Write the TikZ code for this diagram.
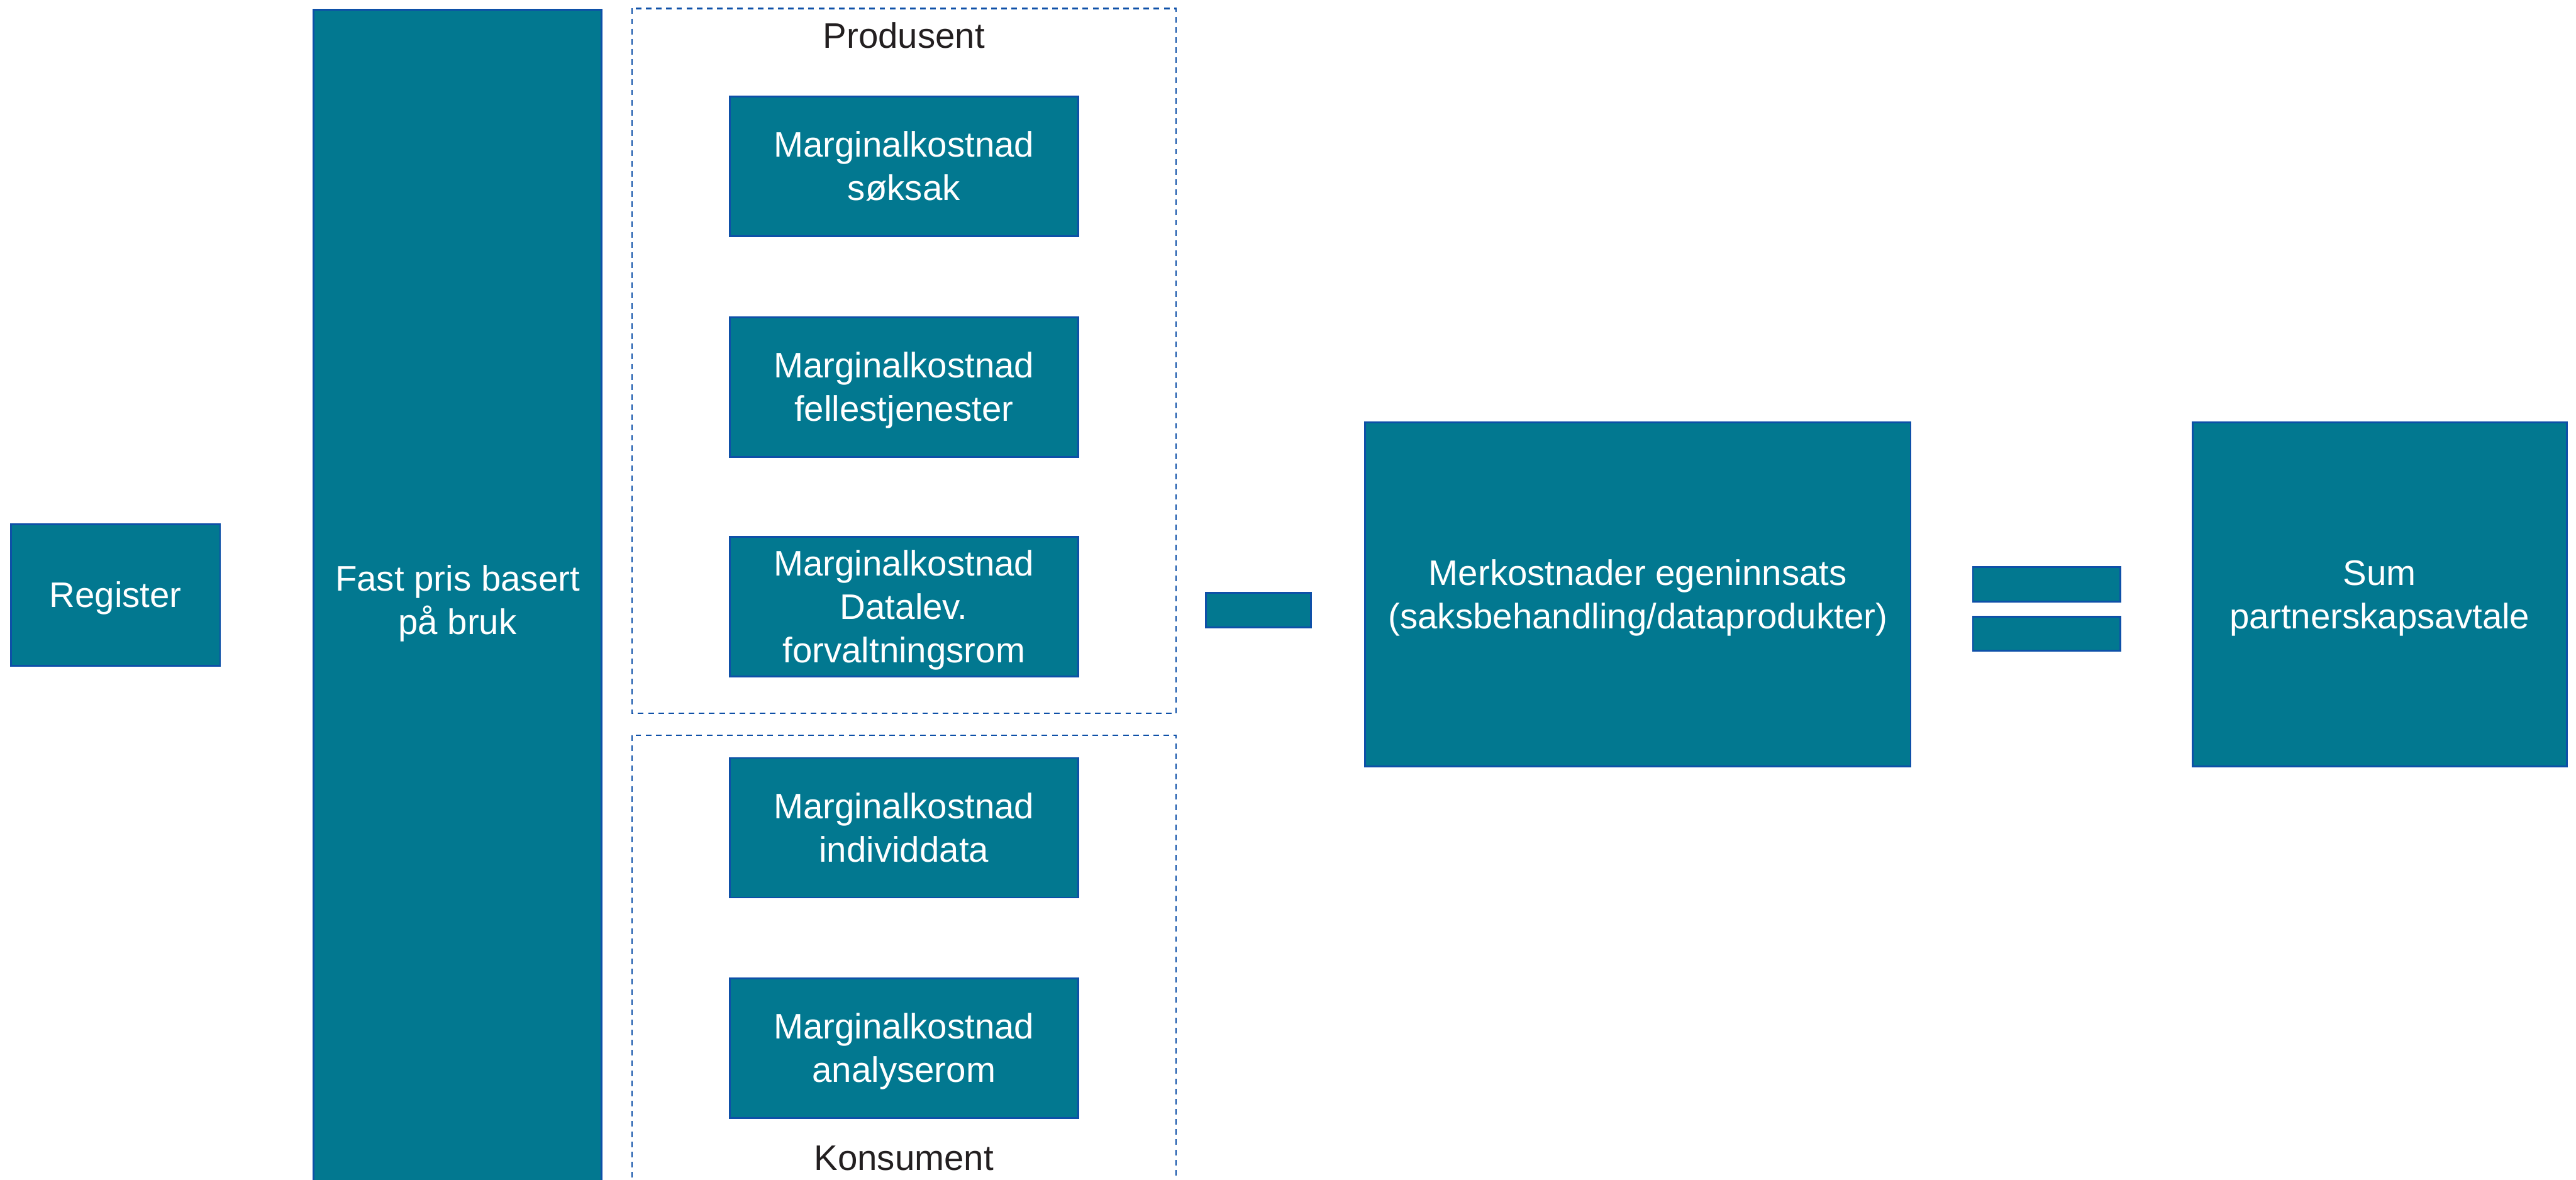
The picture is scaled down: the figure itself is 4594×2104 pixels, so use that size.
\documentclass[tikz,border=0pt]{standalone}
\usepackage{fontspec}
\setmainfont{Liberation Sans}
% strut with the font's ascent and descent, so text sits as in a slide box
\newcommand\lnstrut{\vrule width 0pt height 0.905em depth 0.212em\relax}
\begin{document}
\definecolor{tealfill}{HTML}{027890}
\definecolor{edgeblue}{HTML}{0E50A8}
\definecolor{dashblue}{HTML}{0E50A8}
\definecolor{labeltext}{HTML}{231F20}
\begin{tikzpicture}[x=0.01cm,y=-0.01cm,
  tbox/.style={draw=edgeblue,line width=0.9pt,fill=tealfill,text=white,
    font=\fontsize{18}{22}\selectfont,align=center,inner sep=0pt},
  bar/.style={draw=edgeblue,line width=0.9pt,fill=tealfill,inner sep=0pt},
  group/.style={draw=dashblue,line width=0.75pt,dash pattern=on 2.85pt off 2.3pt},
  grouplabel/.style={text=labeltext,font=\fontsize{18}{22}\selectfont,inner sep=0pt}]
  \useasboundingbox (0,0) rectangle (4594,2104);

  % dashed groups
  \draw[group] (1127,15) rectangle (2097,1272);
  \draw[group] (1127,1311) rectangle (2097,2115);
  \node[grouplabel] (prodlbl) at (1612,64) {\lnstrut Produsent};
  \node[grouplabel] (konslbl) at (1612,2065) {\lnstrut Konsument};

  % left column
  \node[tbox,minimum width=3.73cm,minimum height=2.52cm] (register) at (206,1061) {\lnstrut Register\lnstrut};
  \node[tbox,minimum width=5.14cm,minimum height=21.04cm] (fastpris) at (816,1070) {\lnstrut Fast pris basert\\på bruk\lnstrut};

  % marginal cost boxes
  \node[tbox,minimum width=6.21cm,minimum height=2.49cm] (soksak) at (1612,297) {\lnstrut Marginalkostnad\\søksak\lnstrut};
  \node[tbox,minimum width=6.21cm,minimum height=2.49cm] (felles) at (1612,690) {\lnstrut Marginalkostnad\\fellestjenester\lnstrut};
  \node[tbox,minimum width=6.21cm,minimum height=2.49cm] (datalev) at (1612,1082) {\lnstrut Marginalkostnad\\Datalev.\\forvaltningsrom\lnstrut};
  \node[tbox,minimum width=6.21cm,minimum height=2.49cm] (individ) at (1612,1476) {\lnstrut Marginalkostnad\\individdata\lnstrut};
  \node[tbox,minimum width=6.21cm,minimum height=2.49cm] (analyse) at (1612,1869) {\lnstrut Marginalkostnad\\analyserom\lnstrut};

  % minus sign
  \node[bar,minimum width=1.87cm,minimum height=0.62cm] (minus) at (2244,1088) {};

  % own effort
  \node[tbox,minimum width=9.72cm,minimum height=6.13cm] (merkost) at (2921,1060) {\lnstrut Merkostnader egeninnsats\\(saksbehandling/dataprodukter)\lnstrut};

  % equals sign
  \node[bar,minimum width=2.63cm,minimum height=0.61cm] (eqtop) at (3650,1042) {};
  \node[bar,minimum width=2.63cm,minimum height=0.61cm] (eqbot) at (3650,1130) {};

  % result
  \node[tbox,minimum width=6.67cm,minimum height=6.13cm] (sum) at (4244,1060) {\lnstrut Sum\\partnerskapsavtale\lnstrut};
\end{tikzpicture}
\end{document}
